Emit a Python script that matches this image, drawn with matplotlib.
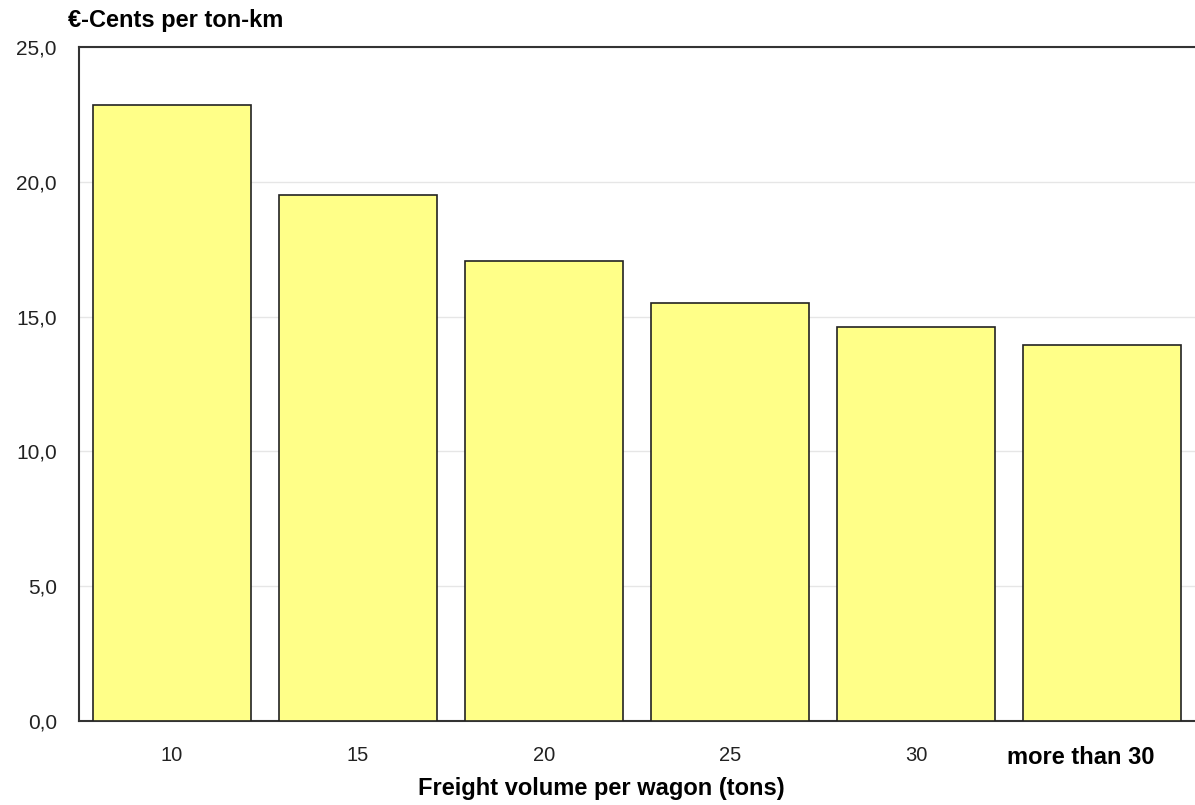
import matplotlib.pyplot as plt
import matplotlib.transforms as mtransforms

plt.rcParams['font.family'] = ['Liberation Sans', 'DejaVu Sans']

categories = ['10', '15', '20', '25', '30', 'more than 30']
cents_per_tkm = [22.85, 19.5, 17.05, 15.5, 14.6, 13.95]
y_ticks = [0, 5, 10, 15, 20, 25]

fig = plt.figure(figsize=(11.95, 8.05), dpi=100)
ax = fig.add_axes([0.0661, 0.1043, 0.9339, 0.8373])

x = range(len(categories))
ax.bar(x, cents_per_tkm, width=0.85, color='#ffff88', edgecolor='#222222',
       linewidth=1.2, zorder=3)

ax.set_xlim(-0.5, 5.5)
ax.set_ylim(0, 25)
ax.set_yticks(y_ticks)
ax.set_yticklabels([f'{v:.1f}'.replace('.', ',') for v in y_ticks], fontsize=15, color='#222222')
ax.set_xticks(list(x))
ax.set_xticklabels(categories, fontsize=14.5, color='#222222')
ax.tick_params(axis='y', length=0, pad=16)
ax.tick_params(axis='x', length=0, pad=18)

# last label is bold, bigger and sits a bit left
last = ax.get_xticklabels()[-1]
last.set_fontweight('bold')
last.set_fontsize(17)
last.set_color('black')
last.set_transform(last.get_transform() + mtransforms.ScaledTranslation(-0.21, 0, fig.dpi_scale_trans))

ax.yaxis.grid(True, color='#e6e6e6', linewidth=1, zorder=0)
ax.spines['right'].set_visible(False)
for s in ['left', 'top', 'bottom']:
    ax.spines[s].set_color('#333333')
    ax.spines[s].set_linewidth(1.5)

fig.text(0.057, 0.975, '€-Cents per ton-km', fontsize=17, fontweight='bold', va='center', ha='left')
fig.text(0.503, 0.021, 'Freight volume per wagon (tons)', fontsize=17, fontweight='bold',
         va='center', ha='center')

fig.savefig('out.png', dpi=100)
